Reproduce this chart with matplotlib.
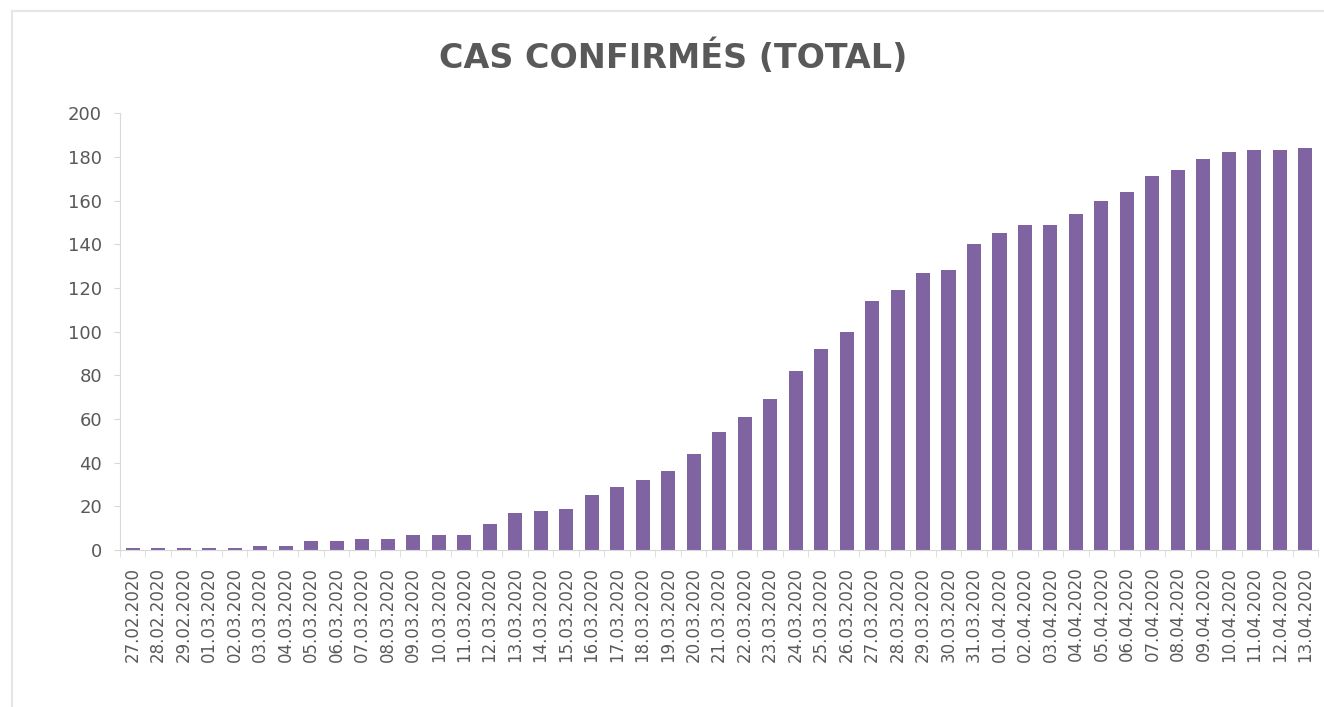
import numpy as np
import matplotlib
matplotlib.use('Agg')
import matplotlib.pyplot as plt
from matplotlib.lines import Line2D

# dates (x categories)
dates = ['27.02.2020', '28.02.2020', '29.02.2020',
         '01.03.2020', '02.03.2020', '03.03.2020', '04.03.2020', '05.03.2020',
         '06.03.2020', '07.03.2020', '08.03.2020', '09.03.2020', '10.03.2020',
         '11.03.2020', '12.03.2020', '13.03.2020', '14.03.2020', '15.03.2020',
         '16.03.2020', '17.03.2020', '18.03.2020', '19.03.2020', '20.03.2020',
         '21.03.2020', '22.03.2020', '23.03.2020', '24.03.2020', '25.03.2020',
         '26.03.2020', '27.03.2020', '28.03.2020', '29.03.2020', '30.03.2020',
         '31.03.2020', '01.04.2020', '02.04.2020', '03.04.2020', '04.04.2020',
         '05.04.2020', '06.04.2020', '07.04.2020', '08.04.2020', '09.04.2020',
         '10.04.2020', '11.04.2020', '12.04.2020', '13.04.2020']

# cumulative confirmed cases
cases = [1, 1, 1, 1, 1, 2, 2, 4, 4, 5, 5, 7, 7, 7, 12, 17, 18, 19, 25, 29,
         32, 36, 44, 54, 61, 69, 82, 92, 100, 114, 119, 127, 128, 140, 145,
         149, 149, 154, 160, 164, 171, 174, 179, 182, 183, 183, 184]

yticks = [0, 20, 40, 60, 80, 100, 120, 140, 160, 180, 200]

grey_txt = '#595959'
grey_line = '#d9d9d9'

fig = plt.figure(figsize=(13.24, 7.07), dpi=100)
ax = fig.add_axes([0.0906, 0.222, 0.905, 0.618])

x = np.arange(len(dates))
ax.bar(x, cases, width=0.55, color='#8064A2')

ax.set_xlim(-0.5, len(dates) - 0.5)
ax.set_ylim(0, 200)
ax.set_yticks(yticks)
ax.tick_params(axis='y', labelsize=13, labelcolor=grey_txt, color=grey_line,
               length=4, pad=9)

ax.set_xticks(x)
ax.set_xticklabels(dates, rotation=90, fontsize=12, color=grey_txt)
ax.tick_params(axis='x', which='major', length=0, pad=12)
ax.set_xticks(np.arange(len(dates) + 1) - 0.5, minor=True)
ax.tick_params(axis='x', which='minor', length=5, color=grey_line)

for s in ['top', 'right']:
    ax.spines[s].set_visible(False)
ax.spines['left'].set_color(grey_line)
ax.spines['bottom'].set_color(grey_line)

fig.text(0.5087, 0.904, 'CAS CONFIRMÉS (TOTAL)', ha='center', va='baseline',
         fontsize=24, fontweight='bold', color=grey_txt, family='DejaVu Sans')

# faint outer frame (top and left edges)
fig.add_artist(Line2D([12 / 1324, 1.0], [1 - 11 / 707, 1 - 11 / 707],
                      transform=fig.transFigure, color='#e6e6e6', lw=1.5))
fig.add_artist(Line2D([12 / 1324, 12 / 1324], [0.0, 1 - 11 / 707],
                      transform=fig.transFigure, color='#e6e6e6', lw=1.5))

fig.savefig('out.png', dpi=100)
